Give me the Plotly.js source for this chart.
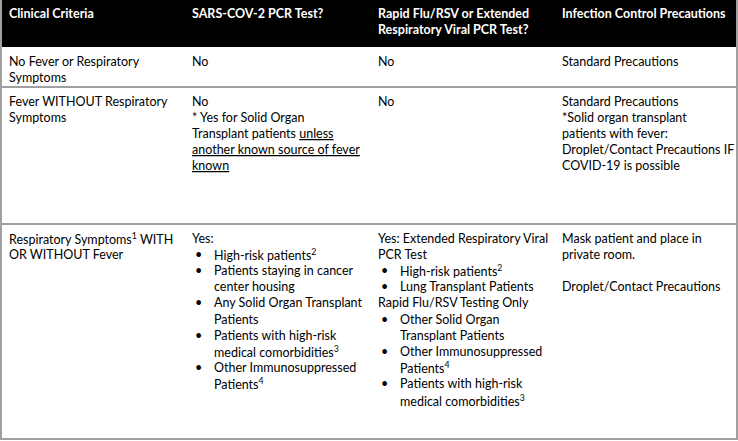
<!DOCTYPE html>
<html>
<head>
<meta charset="utf-8">
<script src="https://cdn.plot.ly/plotly-3.0.1.min.js"></script>
<style>html,body{margin:0;padding:0;background:#fff;}#chart{width:738px;height:441px;}</style>
</head>
<body>
<div id="chart"></div>
<script>
// ---- table content ----
// "• " marks a bullet item, "  " marks a continuation line of a bullet item
const headers = [
  ["Clinical Criteria"],
  ["SARS-COV-2 PCR Test?"],
  ["Rapid Flu/RSV or Extended", "Respiratory Viral PCR Test?"],
  ["Infection Control Precautions"]
];
const clinicalCriteria = [
  ["No Fever or Respiratory", "Symptoms"],
  ["Fever WITHOUT Respiratory", "Symptoms"],
  ["Respiratory Symptoms<sup>1</sup> WITH", "OR WITHOUT Fever"]
];
const sarsCov2Test = [
  ["No"],
  ["No", "* Yes for Solid Organ", "Transplant patients <u>unless</u>", "<u>another known source of fever</u>", "<u>known</u>"],
  ["Yes:",
   "• High-risk patients<sup>2</sup>",
   "• Patients staying in cancer", "  center housing",
   "• Any Solid Organ Transplant", "  Patients",
   "• Patients with high-risk", "  medical comorbidities<sup>3</sup>",
   "• Other Immunosuppressed", "  Patients<sup>4</sup>"]
];
const fluRsvTest = [
  ["No"],
  ["No"],
  ["Yes: Extended Respiratory Viral", "PCR Test",
   "• High-risk patients<sup>2</sup>",
   "• Lung Transplant Patients",
   "Rapid Flu/RSV Testing Only",
   "• Other Solid Organ", "  Transplant Patients",
   "• Other Immunosuppressed", "  Patients<sup>4</sup>",
   "• Patients with high-risk", "  medical comorbidities<sup>3</sup>"]
];
const precautions = [
  ["Standard Precautions"],
  ["Standard Precautions", "*Solid organ transplant", "patients with fever:", "Droplet/Contact Precautions IF", "COVID-19 is possible"],
  ["Mask patient and place in", "private room.", "", "Droplet/Contact Precautions"]
];

// ---- layout geometry ----
const W = 738, H = 441;
const colX = [7, 190, 376, 560];
const bulletDx = 3, textDx = 22;
const rowEdges = [0, 47, 87, 224, 439];   // header, row1, row2, row3 bottom
const firstLine = 14, lineH = 16.2;
const FONT = "Lato, 'Open Sans', sans-serif";
const FS = 12.5;

const columns = [clinicalCriteria, sarsCov2Test, fluRsvTest, precautions];
const annotations = [];

function addLine(x, y, text, bold, color) {
  annotations.push({
    x: x, y: y, xref: 'x', yref: 'y', text: text,
    showarrow: false, xanchor: 'left', yanchor: 'middle', align: 'left',
    font: {family: FONT, size: FS, color: color, weight: bold ? 'bold' : 'normal'}
  });
}

// header
headers.forEach((lines, c) => {
  lines.forEach((ln, i) => addLine(colX[c], 13 + i * lineH, ln, true, '#ffffff'));
});

// body
columns.forEach((col, c) => {
  col.forEach((lines, r) => {
    const top = rowEdges[r + 1];
    lines.forEach((ln, i) => {
      if (!ln) return;
      const y = top + firstLine + i * lineH;
      if (ln.startsWith('• ')) {
        addLine(colX[c] + bulletDx, y, '•', false, '#000');
        addLine(colX[c] + textDx, y, ln.slice(2), false, '#000');
      } else if (ln.startsWith('  ')) {
        addLine(colX[c] + textDx, y, ln.slice(2), false, '#000');
      } else {
        addLine(colX[c], y, ln, false, '#000');
      }
    });
  });
});

const gray = '#a0a0a0';
const shapes = [
  {type: 'rect', xref: 'x', yref: 'y', x0: 0, x1: W, y0: 0, y1: rowEdges[1], fillcolor: '#000', line: {width: 0}, layer: 'below'},
  {type: 'line', xref: 'x', yref: 'y', x0: 0, x1: W, y0: rowEdges[2], y1: rowEdges[2], line: {color: gray, width: 2}},
  {type: 'line', xref: 'x', yref: 'y', x0: 0, x1: W, y0: rowEdges[3], y1: rowEdges[3], line: {color: gray, width: 2}},
  {type: 'line', xref: 'x', yref: 'y', x0: 0, x1: W, y0: rowEdges[4], y1: rowEdges[4], line: {color: gray, width: 2}},
  {type: 'line', xref: 'x', yref: 'y', x0: 1, x1: 1, y0: 0, y1: rowEdges[4], line: {color: gray, width: 2}},
  {type: 'line', xref: 'x', yref: 'y', x0: W - 1, x1: W - 1, y0: 0, y1: rowEdges[4], line: {color: gray, width: 2}}
];

const layout = {
  width: W, height: H,
  margin: {l: 0, r: 0, t: 0, b: 0, pad: 0},
  paper_bgcolor: '#ffffff', plot_bgcolor: '#ffffff',
  xaxis: {range: [0, W], visible: false, fixedrange: true},
  yaxis: {range: [H, 0], visible: false, fixedrange: true},
  showlegend: false,
  shapes: shapes,
  annotations: annotations
};

Plotly.newPlot('chart', [{x: [], y: [], type: 'scatter', mode: 'markers', hoverinfo: 'skip'}], layout, {displayModeBar: false, staticPlot: true});
</script>
</body>
</html>
